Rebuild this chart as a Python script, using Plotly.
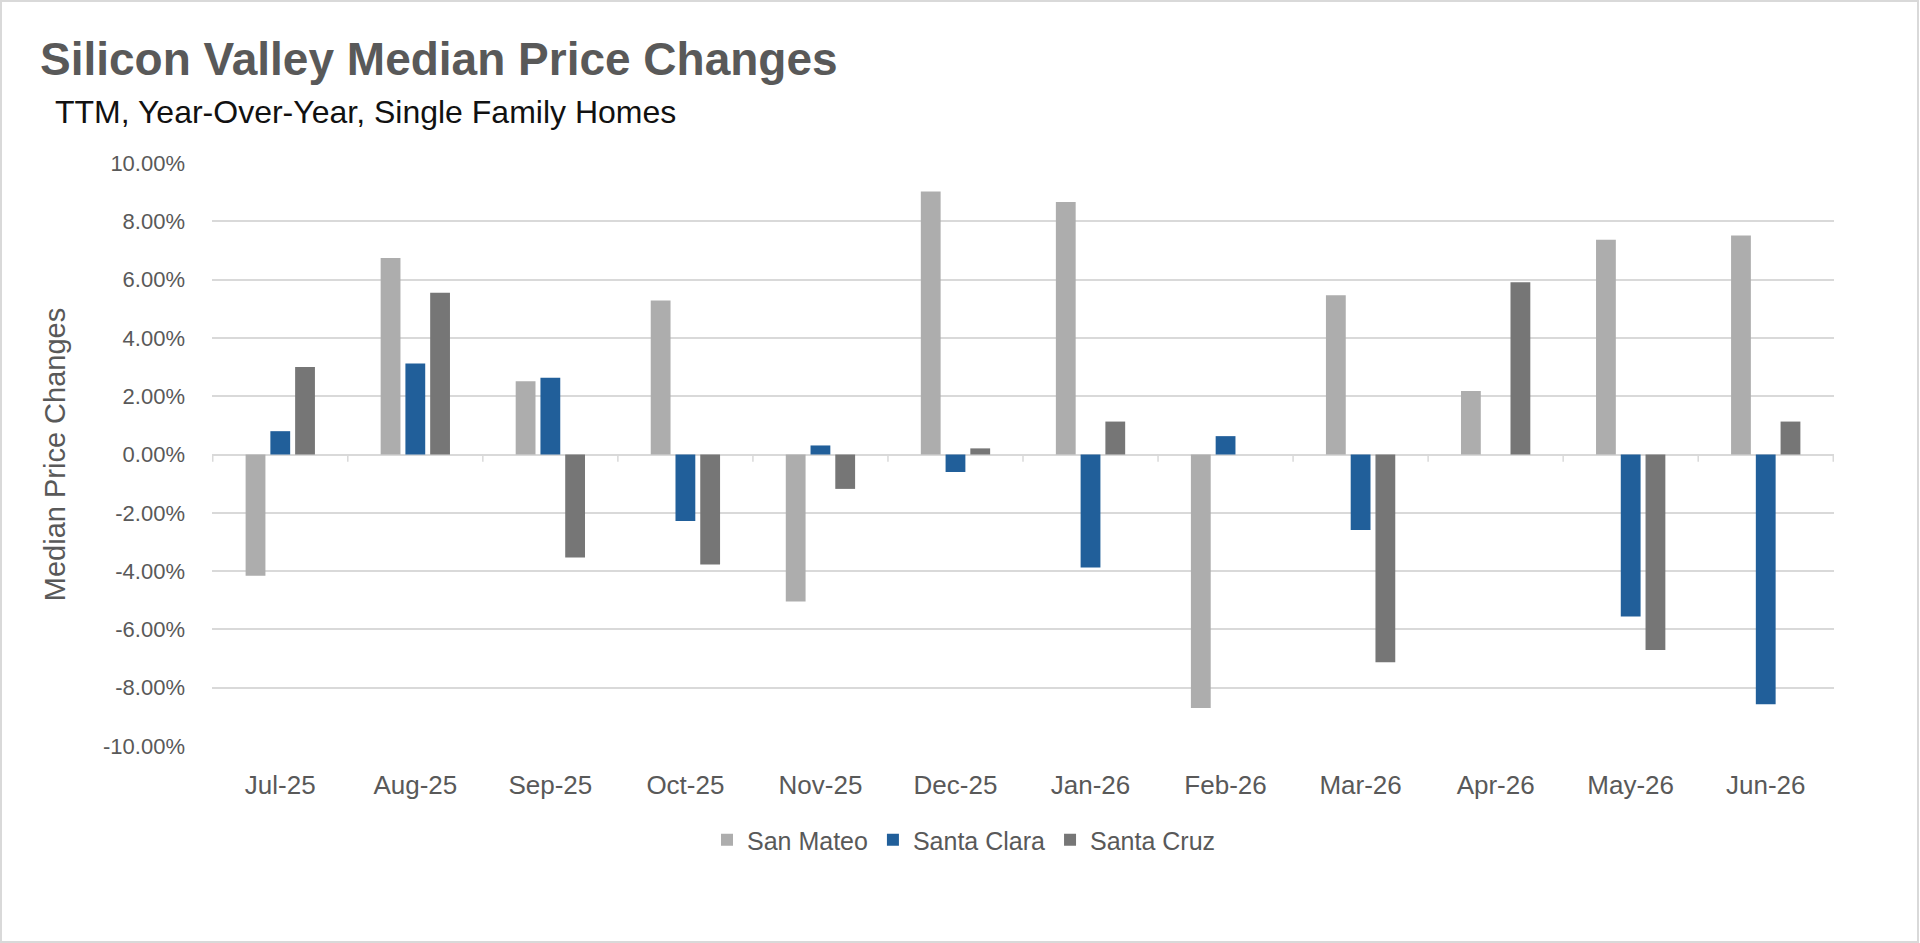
import plotly.graph_objects as go

months = ["Jul-25", "Aug-25", "Sep-25", "Oct-25", "Nov-25", "Dec-25",
          "Jan-26", "Feb-26", "Mar-26", "Apr-26", "May-26", "Jun-26"]
san_mateo = [-4.16, 6.74, 2.51, 5.28, -5.04, 9.02, 8.66, -8.70, 5.46, 2.18, 7.37, 7.51]
santa_clara = [0.80, 3.12, 2.63, -2.28, 0.31, -0.60, -3.88, 0.63, -2.59, 0.0, -5.56, -8.57]
santa_cruz = [3.00, 5.55, -3.53, -3.77, -1.18, 0.21, 1.13, 0.0, -7.13, 5.91, -6.71, 1.13]
y_ticks = [-10, -8, -6, -4, -2, 0, 2, 4, 6, 8, 10]
y_tick_text = [f"{v:.2f}%" for v in y_ticks]

W, H = 1920, 943
ML, MR, MT, MB = 212, 86, 163, 197
PW, PH = W - ML - MR, H - MT - MB


def px_x(px):
    return (px - ML) / PW


def px_y(py):
    return (H - MB - py) / PH


TXT = "#595959"
FAM = "Liberation Sans Narrow, Liberation Sans, Arial, sans-serif"
axis_font = dict(family="Liberation Sans, Arial, sans-serif", size=22, color=TXT)

fig = go.Figure()
for name, vals, col in [("San Mateo", san_mateo, "#ADADAD"),
                        ("Santa Clara", santa_clara, "#215F9A"),
                        ("Santa Cruz", santa_cruz, "#767676")]:
    fig.add_trace(go.Bar(x=months, y=vals, name=name, marker=dict(color=col, line=dict(width=0))))

shapes = []
# category boundary tick marks on the zero line
for i in range(len(months) + 1):
    shapes.append(dict(type="line", xref="x", yref="y", x0=i - 0.5, x1=i - 0.5,
                       y0=0, y1=-0.25, line=dict(color="#D9D9D9", width=1.5)))
# outer chart border
shapes.append(dict(type="rect", xref="paper", yref="paper",
                   x0=px_x(1), x1=px_x(W - 2), y0=px_y(H - 1), y1=px_y(1),
                   line=dict(color="#D9D9D9", width=2), fillcolor="rgba(0,0,0,0)", layer="below"))

fig.update_layout(
    width=W, height=H,
    margin=dict(l=ML, r=MR, t=MT, b=MB),
    paper_bgcolor="white", plot_bgcolor="white",
    barmode="group", bargap=0.45, bargroupgap=0.2,
    shapes=shapes,
    showlegend=True,
    legend=dict(orientation="h", x=px_x(964), xanchor="center", y=px_y(840), yanchor="middle",
                font=dict(family=FAM, size=25, color=TXT),
                itemwidth=30, traceorder="normal"),
    xaxis=dict(type="category", categoryorder="array", categoryarray=months,
               showgrid=False, showline=False, zeroline=False, ticks="",
               tickfont=dict(family=FAM, size=26, color=TXT),
               ticklabelstandoff=21),
    yaxis=dict(range=[-10, 10], tickvals=y_ticks, ticktext=y_tick_text,
               showgrid=True, gridcolor="#D9D9D9", gridwidth=1.5,
               zeroline=True, zerolinecolor="#D9D9D9", zerolinewidth=2,
               showline=False, ticks="", tickfont=axis_font, ticklabelstandoff=26,
               title=dict(text="Median Price Changes", standoff=28,
                          font=dict(family=FAM, size=29, color=TXT))),
    annotations=[
        dict(text="<b>Silicon Valley Median Price Changes</b>", xref="paper", yref="paper",
             x=px_x(38), y=px_y(59), xanchor="left", yanchor="middle", showarrow=False,
             font=dict(family=FAM, size=46, color="#595959")),
        dict(text="TTM, Year-Over-Year, Single Family Homes", xref="paper", yref="paper",
             x=px_x(53), y=px_y(112), xanchor="left", yanchor="middle", showarrow=False,
             font=dict(family=FAM, size=32, color="#111111")),
    ],
)

fig.write_html("out.html")
